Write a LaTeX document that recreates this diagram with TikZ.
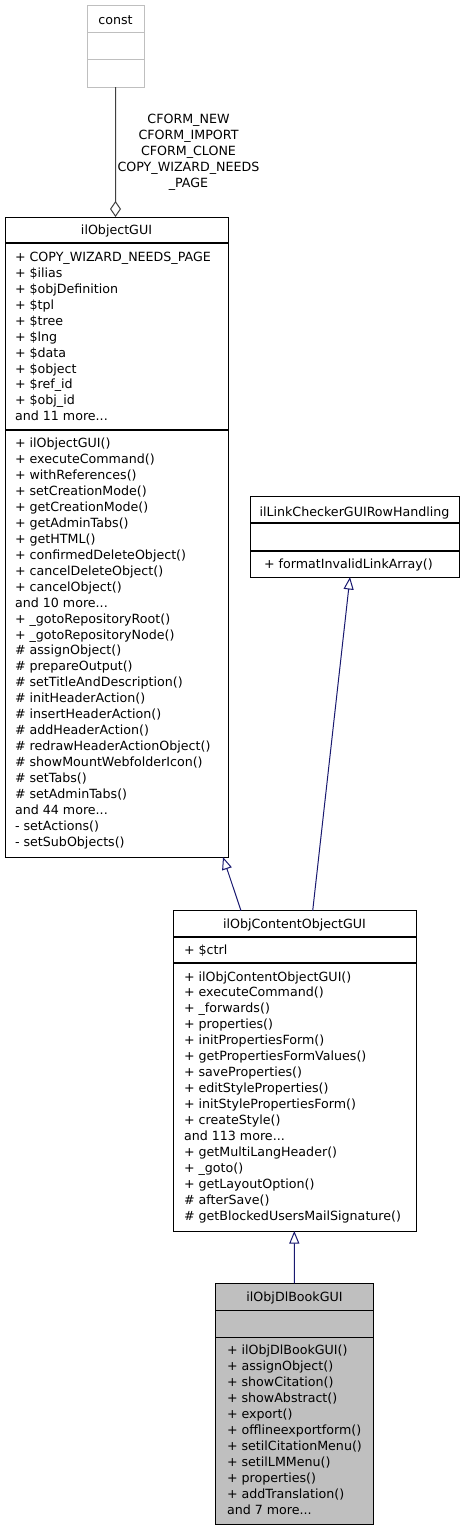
\documentclass[tikz,border=0pt]{standalone}
\usepackage{fontspec}
\setmainfont{DejaVu Sans}
\usetikzlibrary{arrows.meta}
\definecolor{edgeblue}{HTML}{191970}
\definecolor{boxgrey}{HTML}{BFBFBF}
\definecolor{aggrey}{HTML}{404040}
\newcommand{\mydots}{.{}.{}.}
\begin{document}
\begin{tikzpicture}[x=1bp,y=-1bp,
  every node/.style={font=\fontsize{12.7}{15.95}\selectfont, inner sep=0pt, outer sep=0pt},
  umlbox/.style={draw=black, line width=1bp, anchor=north west, inner sep=0pt},
  constbox/.style={umlbox, draw=boxgrey},
  curbox/.style={umlbox, fill=boxgrey},
  divider/.style={line width=1.2bp},
  ttl/.style={anchor=base},
  mline/.style={anchor=base west},
  inherit/.style={draw=edgeblue, line width=1bp, -{Triangle[open, length=12.5bp, width=10bp]}},
  aggr/.style={draw=aggrey, line width=1bp, -{Diamond[open, length=16bp, width=11bp]}},
  elabel/.style={align=center, anchor=north}
]
\fill[white] (0,0) rectangle (464,1531);
\useasboundingbox (0,0) rectangle (464,1531);

% ---- const ----
\node[constbox, minimum width=57bp, minimum height=81bp] (const) at (87,6) {};
\draw[boxgrey, line width=1bp] ([yshift=-27bp]const.north west) -- ([yshift=-27bp]const.north east);
\draw[boxgrey, line width=1bp] ([yshift=-54bp]const.north west) -- ([yshift=-54bp]const.north east);
\node[ttl] (constt) at (115.5,24.5) {const};

% ---- ilObjectGUI ----
\node[umlbox, minimum width=223bp, minimum height=640bp] (obj) at (5,217) {};
\draw[divider] ([yshift=-26bp]obj.north west) -- ([yshift=-26bp]obj.north east);
\draw[divider] ([yshift=-213bp]obj.north west) -- ([yshift=-213bp]obj.north east);
\node[ttl] (objt) at (116.5,234.5) {ilObjectGUI};
\foreach \t [count=\i] in {+ COPY\_WIZARD\_NEEDS\_PAGE, + \$ilias, + \$objDefinition, + \$tpl, + \$tree, + \$lng, + \$data, + \$object, + \$ref\_id, + \$obj\_id, and 11 more\mydots}
  {\node[mline] (obja\i) at (15,{261.5+15.93*(\i-1)}) {\t};}
\foreach \t [count=\i] in {+ ilObjectGUI(), + executeCommand(), + withReferences(), + setCreationMode(), + getCreationMode(), + getAdminTabs(), + getHTML(), + confirmedDeleteObject(), + cancelDeleteObject(), + cancelObject(), and 10 more\mydots, + \_gotoRepositoryRoot(), + \_gotoRepositoryNode(), \# assignObject(), \# prepareOutput(), \# setTitleAndDescription(), \# initHeaderAction(), \# insertHeaderAction(), \# addHeaderAction(), \# redrawHeaderActionObject(), \# showMountWebfolderIcon(), \# setTabs(), \# setAdminTabs(), and 44 more\mydots, - setActions(), - setSubObjects()}
  {\node[mline] (objm\i) at (15,{447.5+15.96*(\i-1)}) {\t};}

% ---- ilLinkCheckerGUIRowHandling ----
\node[umlbox, minimum width=209bp, minimum height=80.3bp] (link) at (250,496.7) {};
\draw[divider] ([yshift=-26.3bp]link.north west) -- ([yshift=-26.3bp]link.north east);
\draw[divider] ([yshift=-54.3bp]link.north west) -- ([yshift=-54.3bp]link.north east);
\node[ttl] (linkt) at (354.5,516.5) {ilLinkCheckerGUIRowHandling};
\node[mline] (linkm1) at (264,568.5) {+ formatInvalidLinkArray()};

% ---- ilObjContentObjectGUI ----
\node[umlbox, minimum width=243bp, minimum height=320.3bp] (coo) at (173,910.7) {};
\draw[divider] ([yshift=-26.3bp]coo.north west) -- ([yshift=-26.3bp]coo.north east);
\draw[divider] ([yshift=-52.3bp]coo.north west) -- ([yshift=-52.3bp]coo.north east);
\node[ttl] (coot) at (294.5,928.5) {ilObjContentObjectGUI};
\node[mline] (cooa1) at (184,954.5) {+ \$ctrl};
\foreach \t [count=\i] in {+ ilObjContentObjectGUI(), + executeCommand(), + \_forwards(), + properties(), + initPropertiesForm(), + getPropertiesFormValues(), + saveProperties(), + editStyleProperties(), + initStylePropertiesForm(), + createStyle(), and 113 more\mydots, + getMultiLangHeader(), + \_goto(), + getLayoutOption(), \# afterSave(), \# getBlockedUsersMailSignature()}
  {\node[mline] (coom\i) at (184,{981+15.95*(\i-1)}) {\t};}

% ---- ilObjDlBookGUI ----
\node[curbox, minimum width=157.6bp, minimum height=240.7bp] (dl) at (215.7,1283.3) {};
\draw[divider] ([yshift=-27.4bp]dl.north west) -- ([yshift=-27.4bp]dl.north east);
\draw[divider] ([yshift=-54bp]dl.north west) -- ([yshift=-54bp]dl.north east);
\node[ttl] (dlt) at (294.5,1301) {ilObjDlBookGUI};
\foreach \t [count=\i] in {+ ilObjDlBookGUI(), + assignObject(), + showCitation(), + showAbstract(), + export(), + offlineexportform(), + setilCitationMenu(), + setilLMMenu(), + properties(), + addTranslation(), and 7 more\mydots}
  {\node[mline] (dlm\i) at (227,{1354.5+16*(\i-1)}) {\t};}

% ---- connectors ----
\draw[aggr] (const.south) -- ([xshift=110.5bp]obj.north west);
\node[elabel] (aggl) at (188.5,114.2) {CFORM\_NEW\\CFORM\_IMPORT\\CFORM\_CLONE\\COPY\_WIZARD\_NEEDS\\\_PAGE};

\draw[inherit] ([xshift=78.6bp]dl.north west) -- ([xshift=121.3bp]coo.south west);
\draw[inherit] ([xshift=68bp]coo.north west) -- ([xshift=218bp]obj.south west);
\draw[inherit] ([xshift=139.7bp]coo.north west) -- ([xshift=100bp]link.south west);
\end{tikzpicture}
\end{document}
